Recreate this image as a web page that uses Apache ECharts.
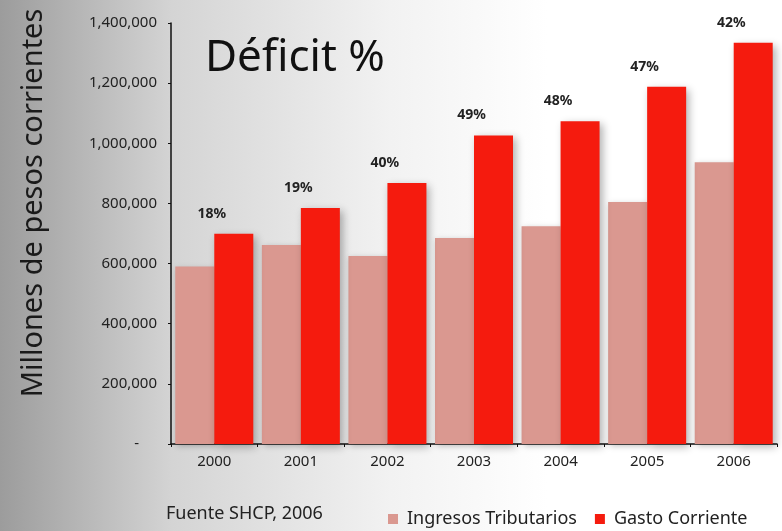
<!doctype html>
<html lang="es">
<head>
    <meta charset="UTF-8">
    <title>Déficit %</title>
    <style>
        html, body { margin: 0; padding: 0; }
        #main { width: 782px; height: 531px; }
    </style>
</head>
<body>
<div id="main"></div>
<script src="https://cdn.jsdelivr.net/npm/echarts@6/dist/echarts.min.js"></script>
<script type="text/javascript">
    // datos
    const years = ['2000', '2001', '2002', '2003', '2004', '2005', '2006'];
    const ingresos = [590000, 662000, 625000, 685000, 724000, 805000, 937000]; // Ingresos Tributarios
    const gasto = [699000, 785000, 868000, 1026000, 1073000, 1188000, 1334000]; // Gasto Corriente
    const deficit = ['18%', '19%', '40%', '49%', '48%', '47%', '42%'];
    const yTicks = [0, 200000, 400000, 600000, 800000, 1000000, 1200000, 1400000];

    const myChart = echarts.init(document.getElementById('main'));
    const font = 'Noto Sans';

    const option = {
        animation: false,
        backgroundColor: {
            type: 'linear', x: 0, y: 0, x2: 1, y2: 0,
            colorStops: [
                { offset: 0, color: '#9c9c9c' },
                { offset: 0.22, color: '#d4d4d4' },
                { offset: 0.5, color: '#f2f2f2' },
                { offset: 0.7, color: '#ffffff' },
                { offset: 1, color: '#ffffff' }
            ]
        },
        textStyle: { fontFamily: font },
        title: {
            text: 'Déficit %',
            left: 205,
            top: 36,
            padding: 0,
            textStyle: { fontSize: 44, fontWeight: 'normal', color: '#111', fontFamily: font }
        },
        grid: { left: 171, right: 5, top: 23, bottom: 87 },
        legend: {
            data: ['Ingresos Tributarios', 'Gasto Corriente'],
            left: 383,
            top: 505,
            itemWidth: 10,
            itemHeight: 10,
            itemGap: 18,
            icon: 'rect',
            textStyle: { fontSize: 18, color: '#222', fontFamily: font, padding: [0, 0, 0, 4] }
        },
        graphic: [
            {
                type: 'text',
                left: 166,
                top: 505,
                style: { text: 'Fuente SHCP, 2006', fontSize: 18, fill: '#222', fontFamily: font }
            },
            {
                type: 'text',
                x: 34,
                y: 203,
                rotation: Math.PI / 2,
                style: {
                    text: 'Millones de pesos corrientes',
                    fontSize: 29, fill: '#1a1a1a', fontFamily: font,
                    align: 'center', verticalAlign: 'middle'
                }
            }
        ],
        xAxis: {
            type: 'category',
            data: years,
            axisLine: { lineStyle: { color: '#111', width: 1.5 } },
            axisTick: { show: true, length: 3, lineStyle: { color: '#111' } },
            axisLabel: { fontSize: 15, color: '#222', margin: 10 }
        },
        yAxis: {
            type: 'value',
            min: yTicks[0],
            max: yTicks[yTicks.length - 1],
            interval: yTicks[1] - yTicks[0],
            splitLine: { show: false },
            axisLine: { show: true, lineStyle: { color: '#111', width: 1.5 } },
            axisTick: { show: true, length: 3, lineStyle: { color: '#111' } },
            axisLabel: {
                fontSize: 15, color: '#222', margin: 14,
                formatter: function (v) {
                    return v === 0 ? '{z|-}' : v.toLocaleString('en-US');
                },
                rich: {
                    z: { fontSize: 15, color: '#222', padding: [0, 18, 0, 0] }
                }
            }
        },
        series: [
            {
                name: 'Ingresos Tributarios',
                type: 'bar',
                data: ingresos,
                barWidth: 39,
                barGap: 0,
                itemStyle: {
                    color: '#da9890',
                    shadowBlur: 6, shadowColor: 'rgba(0,0,0,0.25)', shadowOffsetX: 2, shadowOffsetY: 2
                }
            },
            {
                name: 'Gasto Corriente',
                type: 'bar',
                data: gasto,
                barWidth: 39,
                barGap: 0,
                itemStyle: {
                    color: '#f51b0e',
                    shadowBlur: 8, shadowColor: 'rgba(0,0,0,0.3)', shadowOffsetX: 3, shadowOffsetY: 3
                },
                label: {
                    show: true,
                    position: 'top',
                    offset: [-22, -8],
                    fontSize: 14,
                    fontWeight: 'bold',
                    color: '#222',
                    formatter: function (p) { return deficit[p.dataIndex]; }
                }
            }
        ]
    };
    myChart.setOption(option);
</script>
</body>
</html>
